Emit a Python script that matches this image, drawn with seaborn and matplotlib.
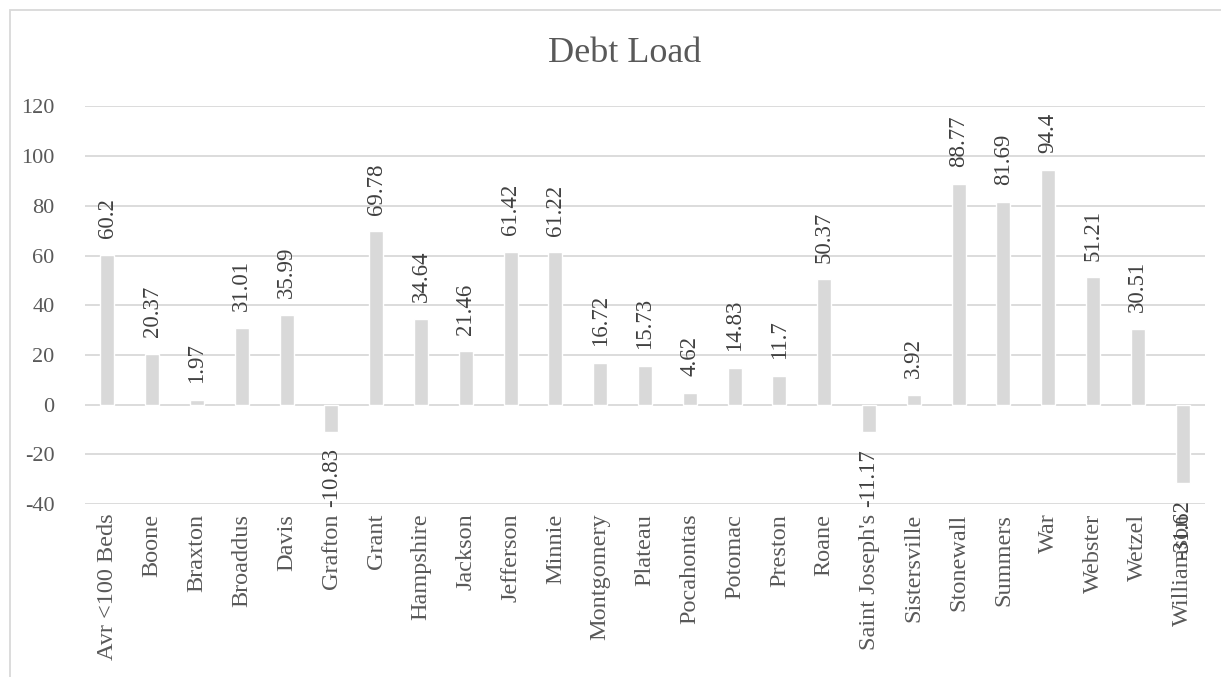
import matplotlib
matplotlib.use("Agg")
import matplotlib.pyplot as plt
import seaborn as sns
import pandas as pd
from matplotlib.patches import Rectangle

categories = [
    "Avr <100 Beds", "Boone", "Braxton", "Broaddus", "Davis", "Grafton", "Grant",
    "Hampshire", "Jackson", "Jefferson", "Minnie", "Montgomery", "Plateau",
    "Pocahontas", "Potomac", "Preston", "Roane", "Saint Joseph's", "Sistersville",
    "Stonewall", "Summers", "War", "Webster", "Wetzel", "Williamson",
]
debt_load = [
    60.2, 20.37, 1.97, 31.01, 35.99, -10.83, 69.78,
    34.64, 21.46, 61.42, 61.22, 16.72, 15.73,
    4.62, 14.83, 11.7, 50.37, -11.17, 3.92,
    88.77, 81.69, 94.4, 51.21, 30.51, -31.62,
]
y_ticks = [-40, -20, 0, 20, 40, 60, 80, 100, 120]
title = "Debt Load"

sns.set_theme(style="white")
plt.rcParams["font.family"] = ["Liberation Serif", "DejaVu Serif"]

W, H = 1221, 677
fig = plt.figure(figsize=(W / 100, H / 100), dpi=100)
fig.patch.set_facecolor("white")

# chart frame (runs off the right and bottom edges)
fig.patches.append(Rectangle((10 / W, -0.1), 1.2, 1 - 10 / H + 0.1,
                             transform=fig.transFigure, fill=False,
                             edgecolor="#d9d9d9", linewidth=1.3))

left, right = 85 / W, 1205 / W
bottom, top = 1 - 504 / H, 1 - 106.4 / H
ax = fig.add_axes([left, bottom, right - left, top - bottom])

df = pd.DataFrame({"name": categories, "value": debt_load})
sns.barplot(data=df, x="name", y="value", color="#d9d9d9", saturation=1,
            width=0.31, ax=ax, zorder=3)

ax.set_xlim(-0.5, len(categories) - 0.5)
ax.set_ylim(y_ticks[0], y_ticks[-1])
ax.set_yticks(y_ticks)
ax.set_yticklabels([str(t) for t in y_ticks])
ax.grid(axis="y", color="#d9d9d9", linewidth=1.3, zorder=0)
ax.grid(axis="x", visible=False)
for s in ax.spines.values():
    s.set_visible(False)
ax.set_xlabel("")
ax.set_ylabel("")
ax.tick_params(axis="y", length=0, pad=22, labelsize=16, labelcolor="#595959")
ax.tick_params(axis="x", length=0, pad=7, labelsize=17.5, labelcolor="#595959")
plt.setp(ax.get_xticklabels(), rotation=90)

ax.bar_label(ax.containers[0], labels=[str(v) for v in debt_load],
             rotation=90, padding=12, fontsize=16.5, color="#404040")

fig.text(625 / W, 1 - 54 / H, title, ha="center", va="center",
         fontsize=26, color="#595959")

fig.savefig("out.png", dpi=100, facecolor="white")
